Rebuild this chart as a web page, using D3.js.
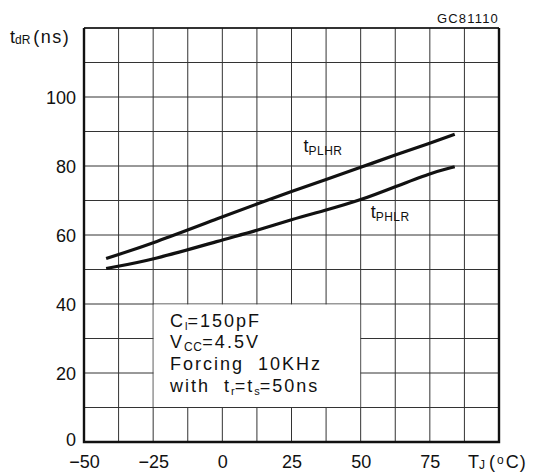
<!DOCTYPE html>
<meta charset="utf-8">
<style>
body { margin: 0; background: #fff; }
text { font-family: "Liberation Sans", Arial, sans-serif; fill: #111; }
.grid line { stroke: #333; stroke-width: 1; }
.curve { fill: none; stroke: #111; stroke-width: 3.2; stroke-linecap: butt; }
.tick text { font-size: 18px; }
</style>
<body>
<svg width="538" height="475"></svg>
<script src="https://cdn.jsdelivr.net/npm/d3@7/dist/d3.min.js"></script>
<script>

// temperature (°C) points
var tempC = [-42, -25, 0, 12.5, 25, 37.5, 50, 62.5, 75, 84];
// propagation delays (ns)
var tPLHR = [53.2, 57.6, 65.3, 69.0, 72.6, 76.1, 79.6, 83.2, 86.6, 89.2];
var tPHLR = [50.3, 52.8, 58.6, 61.3, 64.5, 67.2, 70.1, 74.0, 77.9, 79.8];

var xTickLabels = [-50, -25, 0, 25, 50, 75];
var yTickLabels = [0, 20, 40, 60, 80, 100];

var svg = d3.select("svg");
var x = d3.scaleLinear().domain([-50, 100]).range([84, 499]);
var y = d3.scaleLinear().domain([0, 120]).range([442, 28]);

// grid every 12.5 °C and 10 ns
var grid = svg.append("g").attr("class", "grid");
grid.selectAll(".vx").data(d3.range(-50, 100.1, 12.5)).enter().append("line")
    .attr("x1", d => x(d)).attr("x2", d => x(d))
    .attr("y1", y(0)).attr("y2", y(120));
grid.selectAll(".hy").data(d3.range(0, 120.1, 10)).enter().append("line")
    .attr("x1", x(-50)).attr("x2", x(100))
    .attr("y1", d => y(d)).attr("y2", d => y(d));

// white box behind the test conditions
svg.append("rect")
    .attr("x", x(-25) + 0.5).attr("y", y(40) + 0.5)
    .attr("width", x(50) - x(-25) - 1).attr("height", y(10) - y(40) - 1)
    .attr("fill", "#fff");

// frame
svg.append("line").attr("x1", x(-50)).attr("x2", x(100)).attr("y1", y(120)).attr("y2", y(120))
    .attr("stroke", "#111").attr("stroke-width", 1.4);
svg.append("path")
    .attr("d", "M" + x(-50) + "," + y(120) + "V" + y(0) + "H" + x(100) + "V" + y(120))
    .attr("fill", "none").attr("stroke", "#111").attr("stroke-width", 2.4);

// axes labels only
var yAxis = svg.append("g").attr("transform", "translate(" + (x(-50) - 8) + ",0)")
    .call(d3.axisLeft(y).tickValues(yTickLabels).tickSize(0).tickPadding(0));
yAxis.select(".domain").remove();
yAxis.selectAll("text").attr("dy", "0.36em").attr("fill", "#111");
yAxis.selectAll(".tick").filter(d => d === 0).select("text").attr("dy", "0.2em");

var xAxis = svg.append("g").attr("transform", "translate(0," + (y(0) + 13) + ")")
    .call(d3.axisBottom(x).tickValues(xTickLabels).tickSize(0).tickPadding(0)
        .tickFormat(d => d < 0 ? "\u2212" + Math.abs(d) : d));
xAxis.select(".domain").remove();
xAxis.selectAll("text").attr("fill", "#111");

// curves
var line = d3.line()
    .x((d, i) => x(tempC[i]))
    .y(d => y(d))
    .curve(d3.curveBasis);
svg.append("path").attr("class", "curve").attr("d", line(tPLHR));
svg.append("path").attr("class", "curve").attr("d", line(tPHLR));

// curve labels
function subLabel(px, py, main, sub) {
  var t = svg.append("text").attr("x", px).attr("y", py).style("font-size", "18px");
  t.append("tspan").text(main);
  t.append("tspan").attr("dy", 3).style("font-size", "12px").style("letter-spacing", "0.5px").text(sub);
  return t;
}
subLabel(x(25) + 12, y(84), "t", "PLHR");
subLabel(x(50) + 10, y(64.8), "t", "PHLR");

// y axis title
var yt = svg.append("text").attr("x", 10).attr("y", 43).style("font-size", "18px");
yt.append("tspan").text("t");
yt.append("tspan").attr("dy", 1).style("font-size", "12px").text("dR");
yt.append("tspan").attr("dy", -1).attr("dx", 3).style("letter-spacing", "1.5px").text("(ns)");

// x axis title
var xt = svg.append("text").attr("x", 468).attr("y", y(0) + 26).style("font-size", "18px");
xt.append("tspan").text("T");
xt.append("tspan").attr("dy", 1).style("font-size", "12px").text("J");
xt.append("tspan").attr("dy", -1).attr("dx", 4).style("letter-spacing", "2px").text("(");
xt.append("tspan").attr("dy", -4).style("font-size", "12px").text("o");
xt.append("tspan").attr("dy", 4).attr("dx", 2).style("letter-spacing", "1px").text("C)");

// figure code
svg.append("text").attr("x", 499).attr("y", 23).attr("text-anchor", "end")
    .style("font-size", "13px").style("letter-spacing", "1.2px").text("GC81110");

// test conditions
var cond = svg.append("g").style("font-size", "18px").style("letter-spacing", "2px");
var c1 = cond.append("text").attr("x", 170).attr("y", 327);
c1.append("tspan").text("C");
c1.append("tspan").attr("dy", 3).style("font-size", "11px").style("letter-spacing", "0px").text("l");
c1.append("tspan").attr("dy", -3).text("=150pF");
var c2 = cond.append("text").attr("x", 170).attr("y", 348);
c2.append("tspan").text("V");
c2.append("tspan").attr("dy", 3).style("font-size", "12px").style("letter-spacing", "0.5px").text("CC");
c2.append("tspan").attr("dy", -3).text("=4.5V");
cond.append("text").attr("x", 170).attr("y", 370).attr("xml:space", "preserve").text("Forcing  10KHz");
var c4 = cond.append("text").attr("x", 170).attr("y", 392).attr("xml:space", "preserve");
c4.append("tspan").text("with  t");
c4.append("tspan").attr("dy", 3).style("font-size", "11px").style("letter-spacing", "0px").text("r");
c4.append("tspan").attr("dy", -3).text("=t");
c4.append("tspan").attr("dy", 3).style("font-size", "11px").style("letter-spacing", "0px").text("s");
c4.append("tspan").attr("dy", -3).text("=50ns");

</script>
</body>
